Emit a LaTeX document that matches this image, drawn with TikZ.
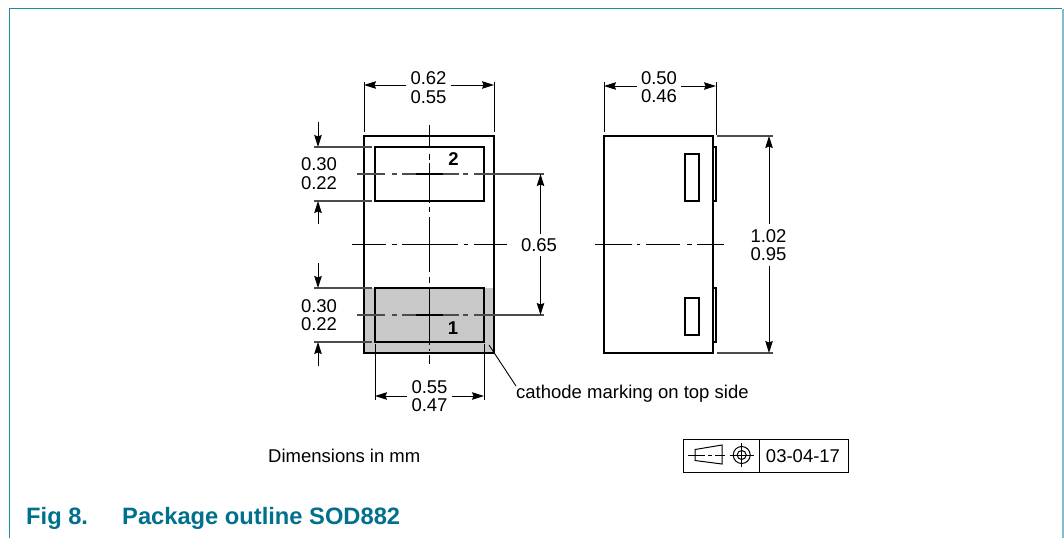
\documentclass[tikz,border=0pt]{standalone}
\usepackage{fontspec}
\setmainfont{Liberation Sans}
\usetikzlibrary{arrows.meta}
\definecolor{frameteal}{HTML}{1F8AA3}
\definecolor{frameside}{HTML}{86BBC9}
\definecolor{captionteal}{HTML}{00708C}
\definecolor{shadegrey}{HTML}{C8C8C8}
\tikzset{
  outline/.style={draw=black,line width=1.7pt},
  thinline/.style={draw=black,line width=0.9pt},
  extline/.style={draw=black!70,line width=1.1pt},
  centerseg/.style={draw=black,line width=1.1pt},
  midseg/.style={draw=black,line width=0.9pt},
  dimarrow/.style={draw=black,line width=1pt,-{Stealth[length=12pt,width=7.5pt,inset=1.5pt]}},
  symline/.style={draw=black,line width=1pt},
  label/.style={font=\fontsize{18.5}{18.5}\selectfont,inner sep=0pt,align=center},
  pinlabel/.style={font=\fontsize{18.5}{18}\selectfont\bfseries,inner sep=0pt},
  captiontext/.style={font=\fontsize{23.7}{26}\selectfont\bfseries,text=captionteal,inner sep=0pt,anchor=west},
}
\begin{document}
\begin{tikzpicture}[x=1pt,y=-1pt]
\useasboundingbox (0,0) rectangle (1064,538);
\fill[white] (0,0) rectangle (1064,538);
% frame
\draw[frameside,line width=2pt] (1063,8.5) -- (1063,538);
\draw[frameteal,line width=1.3pt] (9.3,538) -- (9.3,8.5) -- (1062,8.5);
% shading
\fill[shadegrey] (364,288) rectangle (494,353);
% front view
\draw[outline] (364,136) rectangle (494,353);
\draw[outline] (375,147) rectangle (484,201);
\draw[outline] (375,288) rectangle (484,342);
% centre lines
\foreach \a/\b in {125/148,154/160,163/203,207/212,217/272,277/283,288/345,349/351,355/364}
  \draw[centerseg] (429.7,\a) -- (429.7,\b);
\foreach \a/\b in {352/386,392/397,402/458,464/468,474/507}
  \draw[midseg] (\a,244.4) -- (\b,244.4);
\foreach \y in {174,315}{
  \foreach \a/\b in {357/385,392/397,402/416,443/459,463/468,474/544}
    \draw[centerseg,draw=black!70] (\a,\y) -- (\b,\y);
  \draw[line width=1.8pt] (416,\y) -- (443,\y);
}
\node[pinlabel] (pinb) at (453.5,159.5) {2};
\node[pinlabel] (pina) at (453,328.5) {1};
% top dim
\draw[thinline] (364,82) -- (364,132);
\draw[thinline] (494,82) -- (494,132);
\node[label] (dimA) at (428.5,87.5) {0.62\\0.55};
\draw[dimarrow] (dimA.west |- 0,85) ++(-4,0) -- (364,85);
\draw[dimarrow] (dimA.east |- 0,85) ++(4,0) -- (494,85);
% left dims
\draw[extline] (314,147) -- (372,147);
\draw[extline] (314,201) -- (372,201);
\draw[extline] (314,288) -- (372,288);
\draw[extline] (314,342) -- (372,342);
\node[label] (dimB) at (319,173.5) {0.30\\0.22};
\node[label] (dimC) at (319,315) {0.30\\0.22};
\draw[dimarrow] (318,122) -- (318,147);
\draw[dimarrow] (318,224) -- (318,201);
\draw[dimarrow] (318,263) -- (318,288);
\draw[dimarrow] (318,366) -- (318,342);
% bottom dim
\draw[thinline] (375,344) -- (375,400);
\draw[thinline] (484,344) -- (484,400);
\node[label] (dimD) at (429.5,396) {0.55\\0.47};
\draw[dimarrow] (dimD.west |- 0,396) ++(-4,0) -- (375,396);
\draw[dimarrow] (dimD.east |- 0,396) ++(4,0) -- (484,396);
% 0.65
\node[label] (dimE) at (539,245) {0.65};
\draw[dimarrow] (540.5,234) -- (540.5,174);
\draw[dimarrow] (540.5,256) -- (540.5,315);
% leader
\coordinate (leadA) at (489,345);
\node[label,anchor=west] (cath) at (516,393.5) {cathode marking on top side};
\draw[thinline] (leadA) -- (516,386);
% side view
\draw[outline] (604,136) rectangle (713,353);
\draw[outline] (685,154) rectangle (699,201);
\draw[outline] (685,298) rectangle (699,335);
\draw[line width=1.3pt] (713,147) -- (716,147) -- (716,201) -- (713,201);
\draw[line width=1.3pt] (713,288) -- (716,288) -- (716,342) -- (713,342);
\foreach \a/\b in {595/632,637/640,646/680,687/692,697/724}
  \draw[midseg] (\a,244.4) -- (\b,244.4);
\draw[thinline] (604,82) -- (604,132);
\draw[thinline] (716,82) -- (716,135);
\node[label] (dimF) at (659,87) {0.50\\0.46};
\draw[dimarrow] (dimF.west |- 0,86) ++(-4,0) -- (604,86);
\draw[dimarrow] (dimF.east |- 0,86) ++(4,0) -- (716,86);
\draw[extline] (717,136) -- (773,136);
\draw[extline] (717,353) -- (773,353);
\node[label] (dimG) at (768.5,245) {1.02\\0.95};
\draw[dimarrow] (769,224) -- (769,136);
\draw[dimarrow] (769,266) -- (769,353);
% footer
\node[label,anchor=west] (dimtext) at (268,455.5) {Dimensions in mm};
\draw[symline] (683,439) rectangle (848,472.5);
\draw[symline] (759.5,439) -- (759.5,472.5);
\node[label] (code) at (803,456) {03-04-17};
% projection symbol
\draw[symline] (695,449.5) -- (722,445) -- (722,464) -- (695,460.5) -- cycle;
\foreach \a/\b in {688/705,708/712,715/725}
  \draw[symline] (\a,455) -- (\b,455);
\draw[symline] (741.7,455) circle (8.5);
\draw[symline] (741.7,455) circle (4.5);
\draw[symline] (730,455) -- (754,455);
\draw[symline] (741.7,443) -- (741.7,467);
% caption
\node[captiontext] (figno) at (26,518) {Fig 8.};
\node[captiontext] (figcap) at (122,518) {Package outline SOD882};
\end{tikzpicture}
\end{document}
